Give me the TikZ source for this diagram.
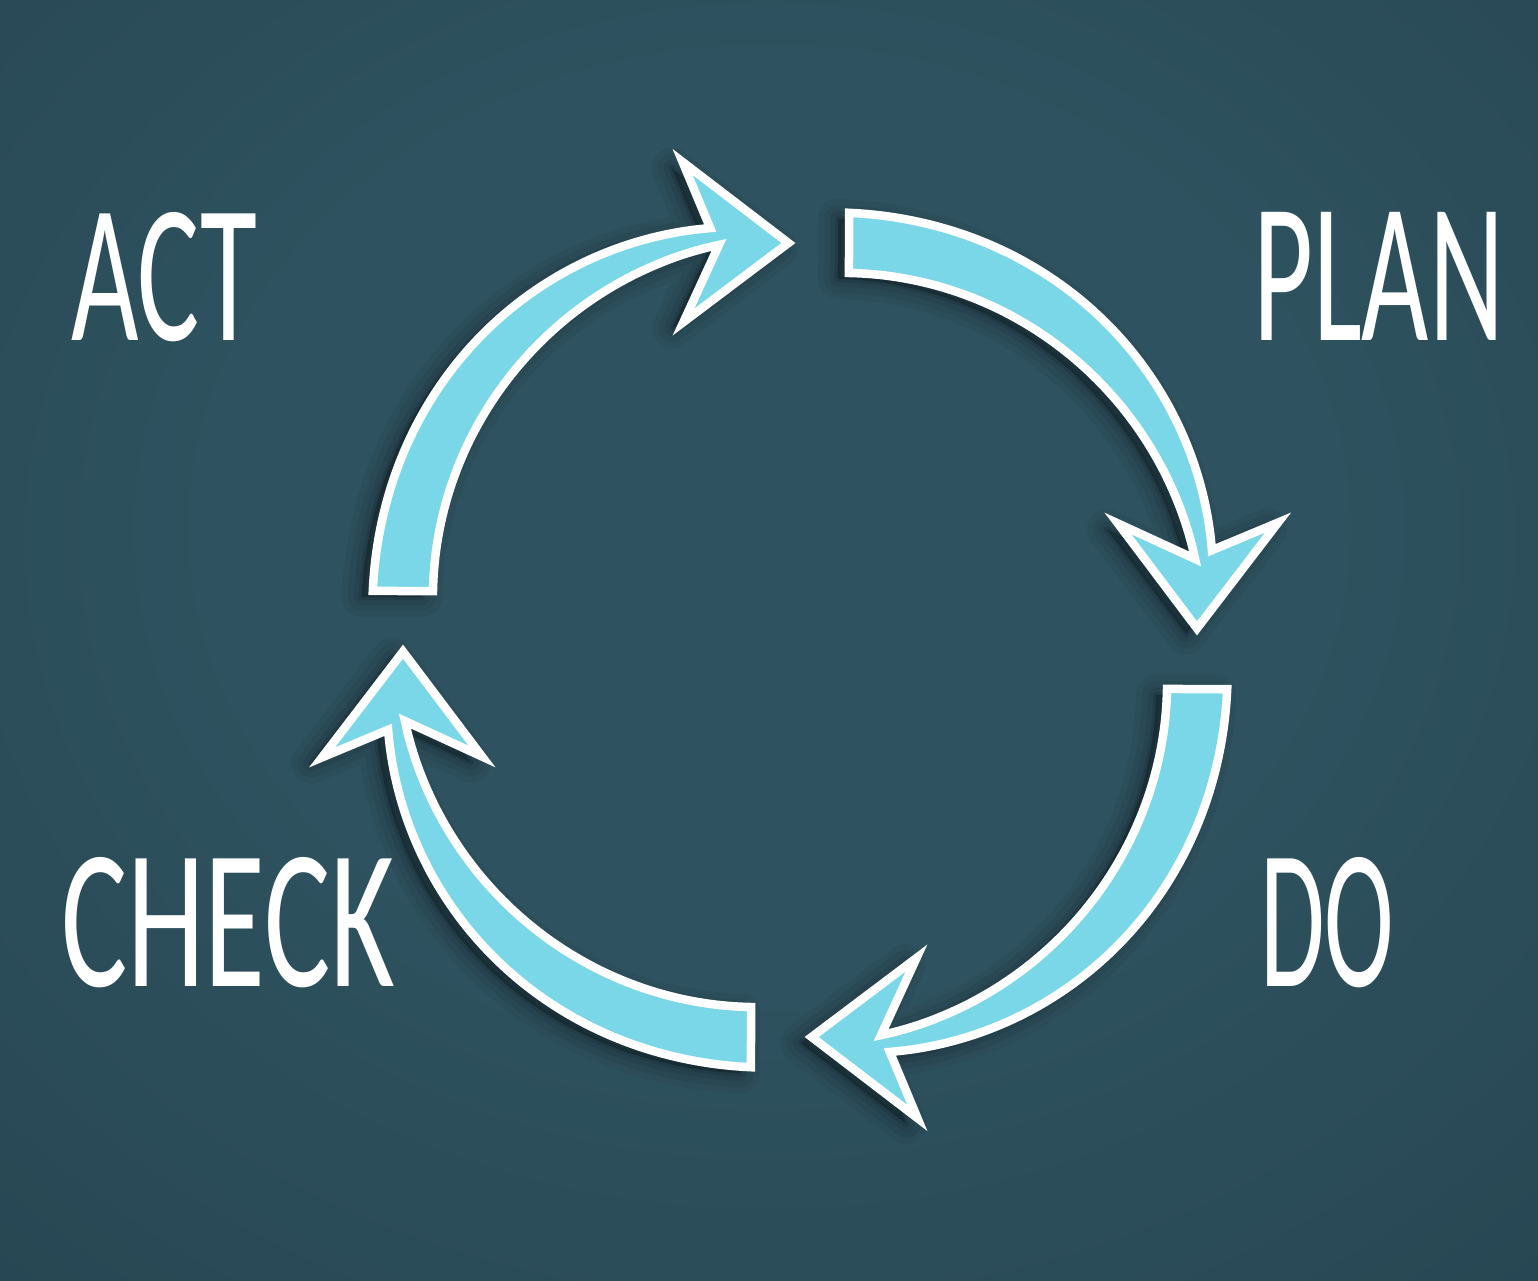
\documentclass[tikz,border=0pt]{standalone}
\usepackage{fontspec}
\setmainfont{Carlito}
\usepackage{graphicx}
\definecolor{bgin}{RGB}{46,82,95}
\definecolor{bgmid}{RGB}{36,64,76}
\definecolor{bgout}{RGB}{27,47,57}
\definecolor{arrowfill}{RGB}{122,215,232}
\pgfdeclareradialshading{pdcabg}{\pgfpoint{0bp}{6bp}}{color(0bp)=(bgin); color(18bp)=(bgin); color(50bp)=(bgmid); color(71bp)=(bgout)}
\tikzset{
  declare function={
    uo(\t)=(\t+83.5)/71.2;
    rout(\t)=430-4*uo(\t)+13*sin(180*uo(\t))-4.4*uo(\t)^6;
    wi(\t)=abs(1-(\t+82.4)/70.8)+0.0005;
    rin(\t)=370.3+33*(1-wi(\t)^1.6);
  },
  pdca arrow/.pic={
    \path[pic actions]
      plot[domain=-83.45:-12.3, samples=80, variable=\t] (\t:{rout(\t)})
      -- (478,-117.4) -- (397,-11.6) -- (318,-116.5)
      -- plot[domain=-11.6:-82.4, samples=80, variable=\t] (\t:{rin(\t)}) -- cycle;
  },
  arrowbody/.style={fill=arrowfill, draw=white, line width=8.5pt, line join=miter},
  label text/.style={anchor=north west, inner sep=0pt, outer sep=0pt, text=white}
}
\begin{document}
\begin{tikzpicture}[x=1pt,y=-1pt]
\useasboundingbox (0,0) rectangle (1538,1280);
\shade[shading=pdcabg] (0,0) rectangle (1538,1280);
% soft shadows
\foreach \rot in {0,-90,-180,-270}{
  \foreach \w/\o in {40/0.045,28/0.055,16/0.07,6/0.09}{
    \pic[draw=black, fill=black, draw opacity=\o, fill opacity=\o, line width=\w pt, line join=round, rotate=\rot] at (789,646) {pdca arrow};
  }
}
% arrows
\foreach \rot in {0,-90,-180,-270}{
  \pic[arrowbody, rotate=\rot] at (800,640) {pdca arrow};
}
% labels
\node[label text] (act) at (71,212) {\resizebox{186pt}{128pt}{ACT}};
\node[label text] (plan) at (1253,212) {\resizebox{251pt}{128pt}{PLAN}};
\node[label text] (check) at (61,857) {\resizebox{334pt}{129pt}{CHECK}};
\node[label text] (do) at (1260,857) {\resizebox{134pt}{129pt}{DO}};
\end{tikzpicture}
\end{document}
